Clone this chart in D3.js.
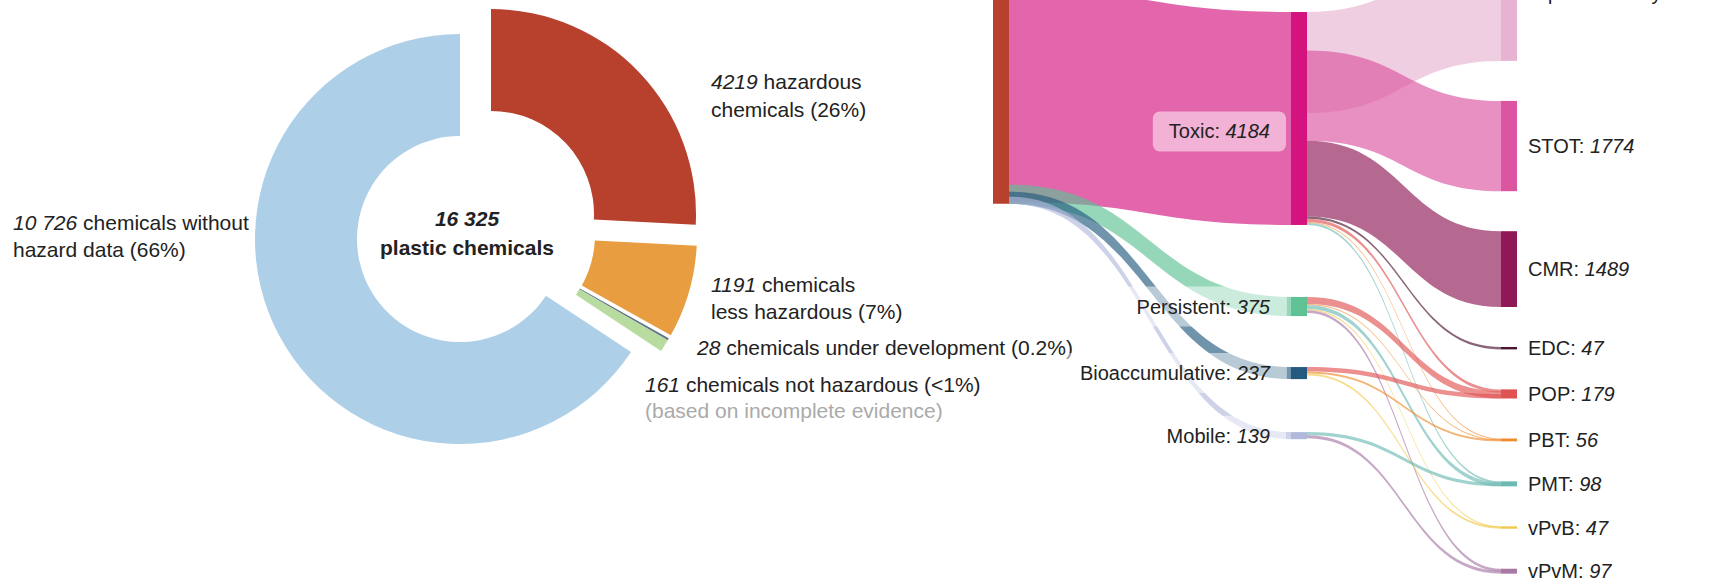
<!DOCTYPE html>
<html>
<head>
<meta charset="utf-8">
<script src="https://cdn.jsdelivr.net/npm/d3@7"></script>
<style>
  html, body { margin: 0; padding: 0; background: #fff; }
  svg { display: block; font-family: 'Liberation Sans', Arial, sans-serif; }
</style>
</head>
<body>
<div id="chart"></div>
<script>
// ---- donut data ----
const donutCategories = ['hazardous', 'less hazardous', 'under development', 'not hazardous', 'without hazard data'];
const donutValues = [4219, 1191, 28, 161, 10726];
const donutLabelLines = [
  [' hazardous', 'chemicals (26%)'],
  [' chemicals', 'less hazardous (7%)'],
  [' chemicals under development (0.2%)'],
  [' chemicals not hazardous (<1%)', '(based on incomplete evidence)'],
  [' chemicals without', 'hazard data (66%)'],
];
const donutCenterLines = ['plastic chemicals'];

// ---- sankey data ----
const nodeNames = ['Hazardous', 'Toxic', 'Persistent', 'Bioaccumulative', 'Mobile',
  'Aquatic toxicity', 'STOT', 'CMR', 'EDC', 'POP', 'PBT', 'PMT', 'vPvB', 'vPvM'];
const nodeValues = [4219, 4184, 375, 237, 139, 2670, 1774, 1489, 47, 179, 56, 98, 47, 97];
const nodeColumns = [0, 1, 1, 1, 1, 2, 2, 2, 2, 2, 2, 2, 2, 2];
const linkSources = [0, 0, 0, 0, 1, 1, 1, 1, 1, 1, 1, 2, 2, 2, 2, 2, 3, 3, 3, 4, 4];
const linkTargets = [1, 2, 3, 4, 5, 6, 7, 8, 9, 10, 11, 9, 10, 11, 12, 13, 9, 10, 12, 11, 13];
const linkValues = [4184, 375, 237, 139, 1985, 1774, 1489, 47, 60, 20, 40, 140, 20, 75, 25, 55, 85, 40, 40, 60, 60];

// ---- styles / layout ----
const WIDTH = 1721;
const HEIGHT = 584;
const FONT = 21;
const SANKEY_FONT = 20;
const TEXT_COLOR = '#222';

const donutColors = ['#b8412e', '#e89d41', '#66778a', '#b8dca0', '#aecfe8'];
// how far each slice is pulled out of the ring
const donutOffset = [[31, -25], [32, -4], [30, -1], [30, -1], [0, 0]];
const DONUT = { cx: 460, cy: 239, outer: 205, inner: 103 };
// label anchor (x, centre y of each line)
const donutLabelPos = [
  { x: 711, y: [82, 110] },
  { x: 711, y: [285, 312] },
  { x: 697, y: [348] },
  { x: 645, y: [385, 411] },
  { x: 13, y: [223, 250] },
];

const nodeColors = ['#b8412e', '#d4137e', '#5ec295', '#245a7e', '#b2badb',
  '#e8b3d2', '#dc55a0', '#8e1956', '#4a1531', '#e05353', '#f08a2a', '#6dbab3', '#f2c94a', '#a878a6'];
const NODE_W = 16;
const COL_X = [993, 1291, 1501];
const COL_TOP = [-11, 12, -75];
const colGap = [() => 0, (i) => [72, 51, 53][i - 1], () => 40];
const LINK_OPACITY = 0.65;
const labelShift = { Toxic: 13 };
// nodes whose overflowing out-links sit flush with the node bottom
const bottomOverflow = ['Hazardous'];

const fmtGroup = d3.formatLocale({ decimal: '.', thousands: ' ', grouping: [3], currency: ['', ''] }).format(',');
const fmtCount = (v) => (v >= 10000 ? fmtGroup(v) : String(v));

const svg = d3.select('#chart')
  .append('svg')
  .attr('width', WIDTH)
  .attr('height', HEIGHT);

svg.append('rect').attr('width', WIDTH).attr('height', HEIGHT).attr('fill', '#fff');

drawDonut();
drawSankey();

/**
 * donut on the left
 */
function drawDonut() {
  const data = donutCategories.map((c, i) => ({ key: c, value: donutValues[i], color: donutColors[i], offset: donutOffset[i] }));
  const pie = d3.pie().sort(null).value((d) => d.value);
  const arc = d3.arc().innerRadius(DONUT.inner).outerRadius(DONUT.outer);

  const g = svg.append('g').attr('transform', `translate(${DONUT.cx},${DONUT.cy})`);

  g.selectAll('path')
    .data(pie(data))
    .join('path')
    .attr('d', arc)
    .attr('fill', (d) => d.data.color)
    .attr('transform', (d) => `translate(${d.data.offset[0]},${d.data.offset[1]})`);

  // centre text
  const total = d3.sum(donutValues);
  svg.append('text')
    .attr('x', DONUT.cx + 7).attr('y', 219).attr('dy', '0.35em')
    .attr('text-anchor', 'middle')
    .attr('font-size', FONT).attr('font-weight', 'bold').attr('font-style', 'italic')
    .attr('fill', TEXT_COLOR)
    .text(fmtCount(total));
  svg.append('text')
    .attr('x', DONUT.cx + 7).attr('y', 248).attr('dy', '0.35em')
    .attr('text-anchor', 'middle')
    .attr('font-size', FONT).attr('font-weight', 'bold')
    .attr('fill', TEXT_COLOR)
    .text(donutCenterLines[0]);

  // outside labels
  data.forEach((d, i) => {
    const pos = donutLabelPos[i];
    donutLabelLines[i].forEach((line, j) => {
      const t = svg.append('text')
        .attr('x', pos.x).attr('y', pos.y[j]).attr('dy', '0.35em')
        .attr('font-size', FONT)
        .attr('fill', i === 3 && j === 1 ? '#aaa' : TEXT_COLOR);
      if (j === 0) {
        t.append('tspan').attr('font-style', 'italic').text(fmtCount(d.value));
      }
      t.append('tspan').text(line);
    });
  });
}

/**
 * sankey on the right
 */
function drawSankey() {
  const y = d3.scaleLinear().domain([0, 1000]).range([0, 50.9]);
  const colX = d3.scaleOrdinal().domain([0, 1, 2]).range(COL_X);

  const nodes = nodeNames.map((name, i) => ({
    name, value: nodeValues[i], col: nodeColumns[i], color: nodeColors[i],
  }));

  // stack nodes per column
  d3.group(nodes, (n) => n.col).forEach((colNodes, col) => {
    let cursor = COL_TOP[col];
    colNodes.forEach((n, i) => {
      if (i > 0) cursor += colGap[col](i);
      n.x0 = colX(col);
      n.x1 = n.x0 + NODE_W;
      n.y0 = cursor;
      n.y1 = cursor + y(n.value);
      cursor = n.y1;
    });
  });

  const links = linkSources.map((s, i) => ({
    source: nodes[s], target: nodes[linkTargets[i]], value: linkValues[i], width: y(linkValues[i]),
  }));

  // link offsets; overflowing links overlap at the node edge
  nodes.forEach((n) => {
    const H = n.y1 - n.y0;
    const flush = bottomOverflow.includes(n.name);
    const outs = links.filter((l) => l.source === n).sort((a, b) => a.target.y0 - b.target.y0);
    let t = 0;
    outs.forEach((l, i) => {
      const suffix = flush ? l.width : d3.sum(outs.slice(i), (o) => o.width);
      l.sy0 = n.y0 + Math.max(0, Math.min(t, H - suffix));
      t += l.width;
    });
    const ins = links.filter((l) => l.target === n).sort((a, b) => a.source.y0 - b.source.y0);
    t = 0;
    ins.forEach((l, i) => {
      const suffix = d3.sum(ins.slice(i), (o) => o.width);
      l.ty0 = n.y0 + Math.max(H - suffix, Math.min(t, H - l.width));
      t += l.width;
    });
  });

  svg.append('g')
    .selectAll('path')
    .data(links)
    .join('path')
    .attr('d', linkPath)
    .attr('fill', (l) => l.target.color)
    .attr('fill-opacity', LINK_OPACITY);

  svg.append('g')
    .selectAll('rect')
    .data(nodes)
    .join('rect')
    .attr('x', (n) => n.x0)
    .attr('y', (n) => n.y0)
    .attr('width', (n) => n.x1 - n.x0)
    .attr('height', (n) => Math.max(1.5, n.y1 - n.y0))
    .attr('fill', (n) => n.color);

  // labels; the middle column gets translucent boxes
  const labelled = nodes.filter((n) => n.col > 0);
  const lg = svg.append('g')
    .selectAll('g')
    .data(labelled)
    .join('g');

  lg.each(function (n) {
    const g = d3.select(this);
    const right = n.col === 2;
    const box = right ? null : g.append('rect')
      .attr('fill', '#fff')
      .attr('fill-opacity', 0.5)
      .attr('rx', 7);
    const text = g.append('text')
      .attr('x', right ? n.x1 + 11 : n.x0 - 21)
      .attr('y', (n.y0 + n.y1) / 2 + (labelShift[n.name] || 0))
      .attr('dy', '0.35em')
      .attr('text-anchor', right ? 'start' : 'end')
      .attr('font-size', SANKEY_FONT)
      .attr('fill', TEXT_COLOR);
    text.append('tspan').text(n.name + ': ');
    text.append('tspan').attr('font-style', 'italic').text(fmtCount(n.value));
    if (box) {
      const bb = text.node().getBBox();
      box.attr('x', bb.x - 16).attr('y', bb.y - 9)
        .attr('width', bb.width + 32).attr('height', bb.height + 18);
    }
  });
}

/**
 * filled link band between two nodes
 * @param {*} l
 */
function linkPath(l) {
  const x0 = l.source.x1;
  const x1 = l.target.x0;
  const xm = d3.interpolateNumber(x0, x1)(0.5);
  const p = d3.path();
  p.moveTo(x0, l.sy0);
  p.bezierCurveTo(xm, l.sy0, xm, l.ty0, x1, l.ty0);
  p.lineTo(x1, l.ty0 + l.width);
  p.bezierCurveTo(xm, l.ty0 + l.width, xm, l.sy0 + l.width, x0, l.sy0 + l.width);
  p.closePath();
  return p.toString();
}
</script>
</body>
</html>
